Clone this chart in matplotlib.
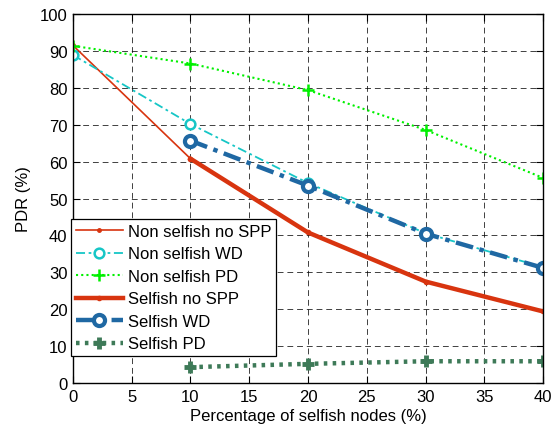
import matplotlib
matplotlib.use("Agg")
import matplotlib.pyplot as plt

plt.rcParams['font.family'] = ['Liberation Sans', 'DejaVu Sans']

# Data
x_all = [0, 10, 20, 30, 40]
x_selfish = [10, 20, 30, 40]

nonselfish_nospp = [91.5, 60.8, 40.8, 27.5, 19.4]
nonselfish_wd = [88.9, 70.2, 54.2, 40.6, 31.4]
nonselfish_pd = [91.4, 86.6, 79.4, 68.6, 55.6]

selfish_nospp = [60.8, 40.8, 27.5, 19.4]
selfish_wd = [65.7, 53.5, 40.5, 31.2]
selfish_pd = [4.3, 5.2, 5.9, 5.9]

xticks = [0, 5, 10, 15, 20, 25, 30, 35, 40]
yticks = [0, 10, 20, 30, 40, 50, 60, 70, 80, 90, 100]

red = "#D8340F"
cyan = "#16C6C6"
green = "#00F000"
blue = "#1F68A3"
dkgreen = "#3E7A58"

fig = plt.figure(figsize=(5.57, 4.31), dpi=100)
ax = fig.add_axes([0.131, 0.109, 0.844, 0.856])

ax.plot(x_all, nonselfish_nospp, color=red, lw=1.2, marker='.', ms=5,
        label="Non selfish no SPP")
ax.plot(x_all, nonselfish_wd, color=cyan, lw=1.3, ls=(0, (5, 2, 1.5, 2)),
        marker='o', ms=7, mfc='white', mew=1.8, label="Non selfish WD")
ax.plot(x_all, nonselfish_pd, color=green, lw=1.5, ls=(0, (1, 1.5)),
        marker='+', ms=9, mew=1.8, label="Non selfish PD")
ax.plot(x_selfish, selfish_nospp, color=red, lw=3.2, marker='.', ms=6,
        label="Selfish no SPP")
ax.plot(x_selfish, selfish_wd, color=blue, lw=3.2, ls=(0, (4, 1.5, 1, 1.5)),
        marker='o', ms=8, mfc='white', mew=3, label="Selfish WD")
ax.plot(x_selfish, selfish_pd, color=dkgreen, lw=3.2, ls=(0, (0.8, 1.2)),
        marker='+', ms=8, mew=3.5, label="Selfish PD")

ax.set_xlim(0, 40)
ax.set_ylim(0, 100)
ax.set_xticks(xticks)
ax.set_yticks(yticks)
ax.tick_params(direction='in', length=5, top=True, right=True,
               labelsize=12, width=0.8, pad=4)
ax.grid(True, color='black', ls=(0, (6, 4)), lw=0.7, alpha=0.75)
for s in ax.spines.values():
    s.set_linewidth(1.0)

ax.set_xlabel("Percentage of selfish nodes (%)", fontsize=12, labelpad=3)
ax.set_ylabel("PDR (%)", fontsize=12, labelpad=6)

leg = ax.legend(loc='lower left', bbox_to_anchor=(-0.004, 0.072), fontsize=12,
                frameon=True, fancybox=False, framealpha=1, edgecolor='black',
                handlelength=2.8, handletextpad=0.3, labelspacing=0.45,
                borderpad=0.3, borderaxespad=0)
leg.get_frame().set_linewidth(0.9)

fig.savefig("out.png", dpi=100)
